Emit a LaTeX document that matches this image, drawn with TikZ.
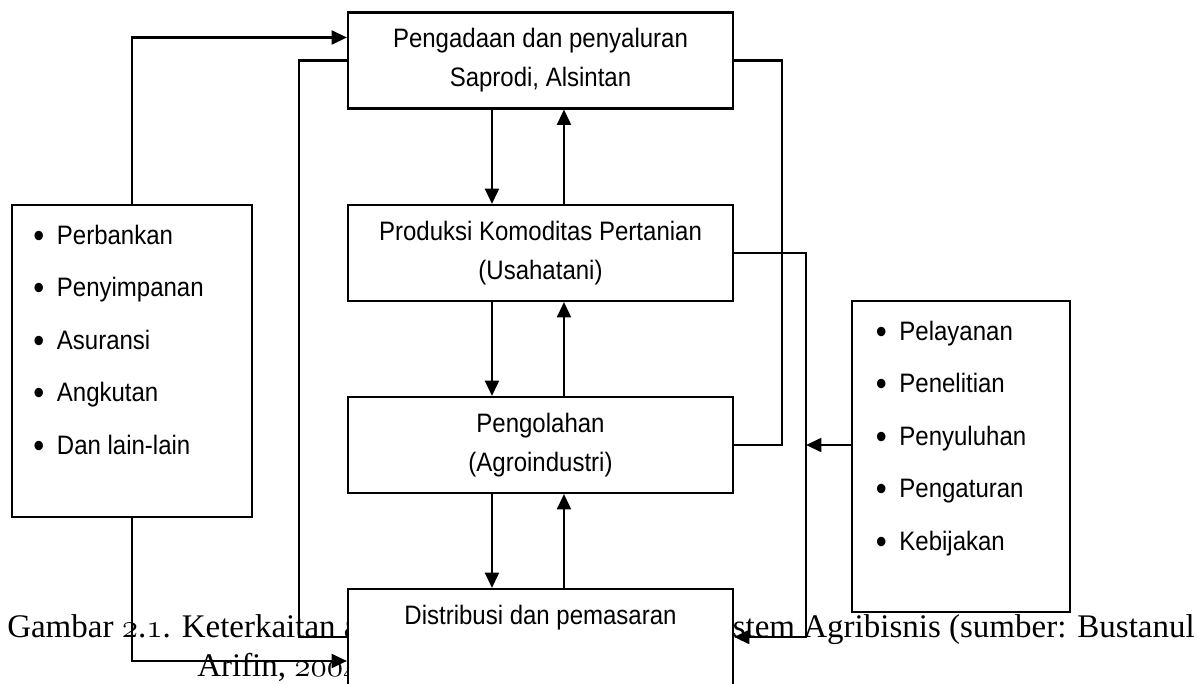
\documentclass[tikz,border=0pt]{standalone}
\usepackage{fontspec}
\newfontfamily\diafont{Liberation Sans}[FakeStretch=0.9]
\newfontfamily\capfont{Liberation Serif}
\usetikzlibrary{positioning, arrows.meta, calc}
\newcommand\blt{\makebox[17.75pt][l]{\raisebox{-2.6pt}{\fontsize{26}{26}\selectfont\textbullet}}}
\newcommand\osn[1]{$\mathnormal{#1}$}
\tikzset{
  block/.style   ={rectangle, draw, line width=1.6pt, fill=white, inner sep=0pt,
                   minimum width=288.75pt, minimum height=72pt, align=center,
                   font=\diafont\fontsize{20}{29.25}\selectfont},
  listbox/.style ={rectangle, draw, line width=1.6pt, fill=white, inner sep=0pt},
  item/.style    ={inner sep=0pt, anchor=base west, font=\diafont\fontsize{20}{24}\selectfont},
  arr/.style     ={-{Triangle[length=11.5pt, width=10.5pt]}, line width=1.6pt},
  link/.style    ={line width=1.6pt},
  caption/.style ={inner sep=0pt, font=\capfont\fontsize{24.75}{34}\selectfont},
}

\begin{document}
\begin{tikzpicture}[x=0.75pt, y=-0.75pt]
\useasboundingbox (0,0) rectangle (1198,684);
% caption behind the diagram
\node[caption, anchor=base west] (capA) at (7,637) {Gambar \osn{2}.\osn{1}. Keterkaitan antar};
\node[caption, anchor=base east] (capB) at (1195,637) {Subsistem Agribisnis (sumber: Bustanul};
\node[caption, anchor=base west] (capC) at (197,676) {Arifin, \osn{2004})};
% subsystems
\node[block] (saprodi) at (540.5,60.5) {Pengadaan dan penyaluran\\Saprodi, Alsintan};
\node[block] (produksi) at (540.5,253) {Produksi Komoditas Pertanian\\(Usahatani)};
\node[block] (olah) at (540.5,445) {Pengolahan\\(Agroindustri)};
\node[block] (distribusi) at (540.5,637) {Distribusi dan pemasaran\\\vphantom{(}};
% supporting institutions
\node[listbox, minimum width=180pt, minimum height=234pt] (jasa) at (132,361) {};
\node[listbox, minimum width=163.5pt, minimum height=233pt] (layan) at (961,456.5) {};
\foreach \y/\txt/\name in {244/Perbankan/bank, 296.5/Penyimpanan/simpan, 349/Asuransi/asuransi,
                           401.5/Angkutan/angkut, 454/Dan lain-lain/lain} {
  \node[item] (\name) at (33,\y) {\blt\txt};
}
\foreach \y/\txt/\name in {340/Pelayanan/pelayanan, 392.5/Penelitian/penelitian, 445/Penyuluhan/penyuluhan,
                           497.5/Pengaturan/pengaturan, 550/Kebijakan/kebijakan} {
  \node[item] (\name) at (875.5,\y) {\blt\txt};
}
% flows between subsystems
\foreach \a/\b in {saprodi/produksi, produksi/olah, olah/distribusi} {
  \draw[arr] ([xshift=-36.4pt]\a.south) -- ([xshift=-36.4pt]\b.north);
  \draw[arr] ([xshift=17.6pt]\b.north) -- ([xshift=17.6pt]\a.south);
}
% links on the left
\draw[arr] (jasa.north) |- ([yshift=17.25pt]saprodi.west);
\draw[link] (saprodi.west) -- ++(-48,0) |- (distribusi.west);
\draw[arr] (jasa.south) |- ([yshift=-18pt]distribusi.west);
% links on the right
\coordinate (bus) at ([xshift=54pt]produksi.east);
\draw[link] (saprodi.east) -- ++(48,0) |- (olah.east);
\draw[arr] (produksi.east) -- (bus) |- (distribusi.east);
\draw[arr] (layan.west |- olah.east) -- (bus |- olah.east);
\end{tikzpicture}
\end{document}
